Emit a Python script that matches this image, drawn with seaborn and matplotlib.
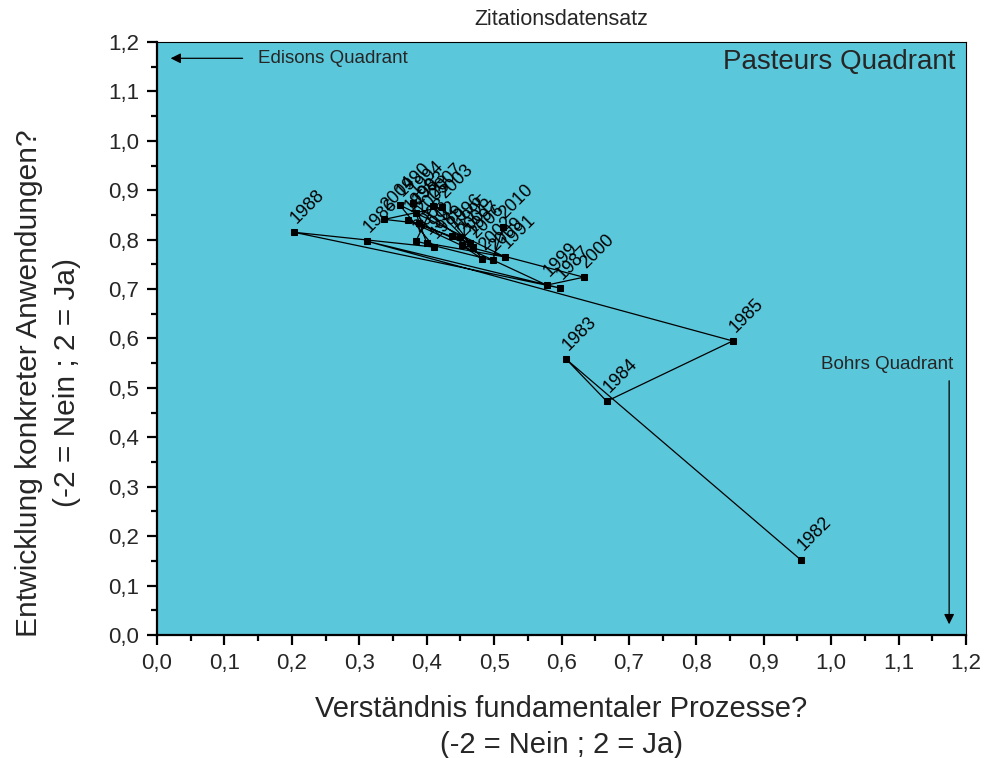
import matplotlib
matplotlib.use("Agg")
import matplotlib.pyplot as plt
from matplotlib.ticker import MultipleLocator, FuncFormatter
import seaborn as sns
import pandas as pd

years = [1982, 1983, 1984, 1985, 1986, 1987, 1988, 1989, 1990, 1991,
         1992, 1993, 1994, 1995, 1996, 1997, 1998, 1999, 2000, 2001,
         2002, 2003, 2004, 2005, 2006, 2007, 2008, 2009, 2010]
fundamental = [0.955, 0.607, 0.667, 0.854, 0.311, 0.598, 0.203, 0.411, 0.360, 0.516,
               0.400, 0.384, 0.380, 0.449, 0.438, 0.464, 0.372, 0.578, 0.633, 0.452,
               0.482, 0.423, 0.337, 0.389, 0.469, 0.409, 0.384, 0.498, 0.513]
anwendung = [0.152, 0.558, 0.473, 0.595, 0.797, 0.702, 0.815, 0.785, 0.870, 0.765,
             0.793, 0.854, 0.874, 0.805, 0.807, 0.793, 0.839, 0.708, 0.724, 0.789,
             0.761, 0.866, 0.841, 0.833, 0.785, 0.868, 0.797, 0.758, 0.825]

df = pd.DataFrame({"jahr": years, "x": fundamental, "y": anwendung})

sns.set_theme(style="ticks")
plt.rcParams["font.family"] = ["Liberation Sans", "DejaVu Sans"]

fig = plt.figure(figsize=(9.84, 7.58), dpi=100)
ax = fig.add_axes([0.1596, 0.1623, 0.8221, 0.7823])
ax.set_facecolor("#5BC7DB")

sns.lineplot(data=df, x="x", y="y", sort=False, estimator=None, ax=ax,
             color="black", linewidth=0.9, marker="s", markersize=5,
             markeredgecolor="black", markerfacecolor="black")

for yr, xv, yv in zip(years, fundamental, anwendung):
    ax.annotate(str(yr), (xv, yv), xytext=(4, 4), textcoords="offset points",
                rotation=45, fontsize=13, ha="left", va="bottom",
                rotation_mode="anchor", color="black")

ax.set_xlim(0, 1.2)
ax.set_ylim(0, 1.2)
ax.xaxis.set_major_locator(MultipleLocator(0.1))
ax.yaxis.set_major_locator(MultipleLocator(0.1))
ax.xaxis.set_minor_locator(MultipleLocator(0.05))
ax.yaxis.set_minor_locator(MultipleLocator(0.05))
comma = FuncFormatter(lambda v, p: f"{v:.1f}".replace(".", ","))
ax.xaxis.set_major_formatter(comma)
ax.yaxis.set_major_formatter(comma)
ax.tick_params(which="major", direction="out", length=7, width=1.6,
               labelsize=16, color="black", pad=6, top=False, right=False)
ax.tick_params(which="minor", direction="out", length=4, width=1.6,
               color="black", top=False, right=False)
for side, sp in ax.spines.items():
    sp.set_visible(True)
    sp.set_color("black")
    sp.set_linewidth(1.6 if side in ("left", "bottom") else 0.8)

ax.set_xlabel("Verständnis fundamentaler Prozesse?\n(-2 = Nein ; 2 = Ja)",
              fontsize=21, labelpad=15, linespacing=1.35)
ax.set_ylabel("Entwicklung konkreter Anwendungen?\n(-2 = Nein ; 2 = Ja)",
              fontsize=21.5, linespacing=1.45)
ax.yaxis.set_label_coords(-0.094, 0.425)
ax.set_title("Zitationsdatensatz", fontsize=15.5, pad=12)

ax.text(1.184, 1.159, "Pasteurs Quadrant", fontsize=20, ha="right", va="center")
ax.annotate("", xy=(0.016, 1.167), xytext=(0.131, 1.167),
            arrowprops=dict(arrowstyle="-|>", color="black", lw=0.9,
                            mutation_scale=15))
ax.text(0.150, 1.167, "Edisons Quadrant", fontsize=13.5, ha="left", va="center")
ax.text(1.181, 0.548, "Bohrs Quadrant", fontsize=13.5, ha="right", va="center")
ax.annotate("", xy=(1.175, 0.016), xytext=(1.175, 0.520),
            arrowprops=dict(arrowstyle="-|>", color="black", lw=0.9,
                            mutation_scale=15))

fig.savefig("out.png", dpi=100)
